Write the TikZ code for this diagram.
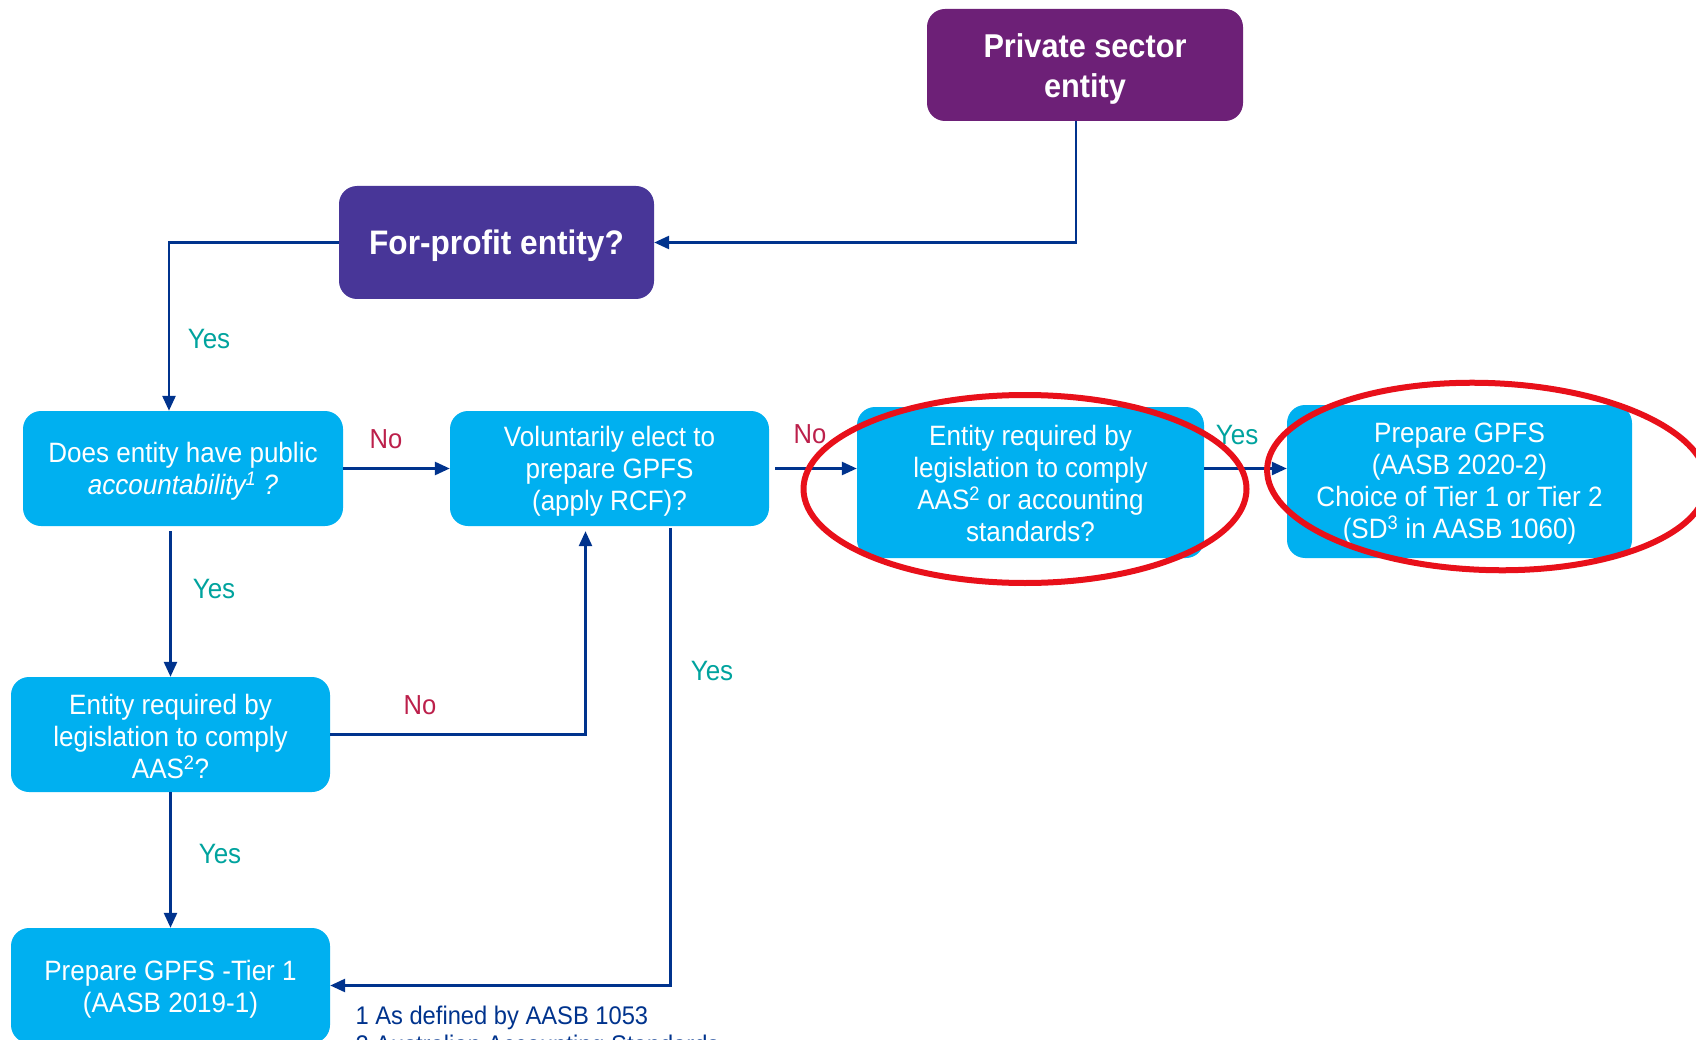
\documentclass[tikz,border=0pt]{standalone}
\usepackage{fontspec}
\setmainfont{Liberation Sans}[FakeStretch=0.93]
\usetikzlibrary{arrows.meta,shapes.geometric}

\definecolor{boxblue}{HTML}{00B0F0}
\definecolor{privpurple}{HTML}{6D2077}
\definecolor{fpviolet}{HTML}{483698}
\definecolor{linkblue}{HTML}{00338D}
\definecolor{yesgreen}{HTML}{00A39E}
\definecolor{nored}{HTML}{BC204B}
\definecolor{ringred}{HTML}{E8101A}

\tikzset{
  stepbox/.style={rounded corners=18pt, fill=boxblue, inner sep=0pt},
  steptext/.style={text=white, align=center, inner sep=0pt,
    font=\fontsize{28}{32}\selectfont},
  headbox/.style={rounded corners=18pt, inner sep=0pt},
  headtext/.style={text=white, align=center, inner sep=0pt,
    font=\bfseries\fontsize{33}{40}\selectfont},
  link/.style={draw=linkblue, line width=2.7pt, -{Triangle[length=15pt,width=13pt]}},
  yeslabel/.style={text=yesgreen, font=\fontsize{28}{32}\selectfont},
  nolabel/.style={text=nored, font=\fontsize{27.5}{32}\selectfont},
  ring/.style={ellipse, draw=ringred, line width=6pt, inner sep=0pt},
  footnote/.style={text=linkblue, font=\fontsize{25.5}{28}\selectfont, align=left}
}

\begin{document}
\begin{tikzpicture}[x=1pt,y=-1pt]
\useasboundingbox (0,0) rectangle (1696,1040);
\clip (0,0) rectangle (1696,1040);

% header boxes
\node[headbox, fill=privpurple, minimum width=316pt, minimum height=112pt] (priv) at (1085,65) {};
\node[headtext] (privtext) at ([yshift=-4pt]priv.center) {Private sector\\entity};
\node[headbox, fill=fpviolet, minimum width=315pt, minimum height=113pt] (fp) at (496.5,242.5) {};
\node[headtext, font=\bfseries\fontsize{34}{40}\selectfont] (fptext) at ([yshift=-3pt]fp.center)
  {For-profit entity?};

% decision and outcome boxes
\node[stepbox, minimum width=320pt, minimum height=115pt] (pub) at (183,468.5) {};
\node[steptext] (pubtext) at ([yshift=-3pt]pub.center)
  {Does entity have public\\\textit{accountability\textsuperscript{1} ?}};
\node[stepbox, minimum width=319pt, minimum height=115pt] (vol) at (609.5,468.5) {};
\node[steptext] (voltext) at ([yshift=-3pt]vol.center)
  {Voluntarily elect to\\prepare GPFS\\(apply RCF)?};
\node[stepbox, minimum width=347pt, minimum height=151pt] (entR) at (1030.5,482.5) {};
\node[steptext] (entRtext) at ([yshift=-1pt]entR.center)
  {Entity required by\\legislation to comply\\AAS\textsuperscript{2} or accounting\\standards?};
\node[stepbox, minimum width=345pt, minimum height=153pt] (prepR) at (1459.5,481.5) {};
\node[steptext] (prepRtext) at ([yshift=-2pt]prepR.center)
  {Prepare GPFS\\(AASB 2020-2)\\Choice of Tier 1 or Tier 2\\(SD\textsuperscript{3} in AASB 1060)};
\node[stepbox, minimum width=319pt, minimum height=115pt] (entL) at (170.5,734.5) {};
\node[steptext] (entLtext) at ([yshift=-2pt]entL.center)
  {Entity required by\\legislation to comply\\AAS\textsuperscript{2}?};
\node[stepbox, minimum width=319pt, minimum height=115pt] (tier1) at (170.5,985.5) {};
\node[steptext] (tier1text) at ([yshift=-4pt]tier1.center)
  {Prepare GPFS -Tier 1\\(AASB 2019-1)};

% connectors
\draw[link] ([xshift=-9pt]priv.south) |- (fp.east);
\draw[link] (fp.west) -| ([xshift=-14pt]pub.north);
\draw[link] (pub.east) -- (vol.west);
\draw[link, shorten <=6pt] (vol.east) -- (vol.east -| entR.west);
\draw[link] (entR.east |- vol.east) -- (prepR.west |- vol.east);
\draw[link, shorten <=5pt] (pub.south -| entL.north) -- (entL.north);
\draw[link, shorten >=5pt] (entL.east) -| ([xshift=-24pt]vol.south);
\draw[link, shorten <=2pt] ([xshift=61pt]vol.south) |- (tier1.east);
\draw[link] (entL.south) -- (tier1.north);

% branch labels
\node[yeslabel] (y1) at (209,339) {Yes};
\node[nolabel]  (n1) at (386,439) {No};
\node[nolabel]  (n2) at (810,434) {No};
\node[yeslabel] (y2) at (1237,435) {Yes};
\node[yeslabel] (y3) at (214,589) {Yes};
\node[nolabel]  (n3) at (420,705) {No};
\node[yeslabel] (y4) at (712,671) {Yes};
\node[yeslabel] (y5) at (220,854) {Yes};

% highlight rings
\node[ring, minimum width=443pt, minimum height=188pt] (ringA) at (1025,489) {};
\node[ring, minimum width=440pt, minimum height=187pt, rotate=-2] (ringB) at (1487,476.5) {};

% footnotes
\node[footnote, anchor=base west] (fn1) at (352,1024) {1 As defined by AASB 1053};
\node[footnote, anchor=base west] (fn2) at (352,1053) {2 Australian Accounting Standards};
\end{tikzpicture}
\end{document}
